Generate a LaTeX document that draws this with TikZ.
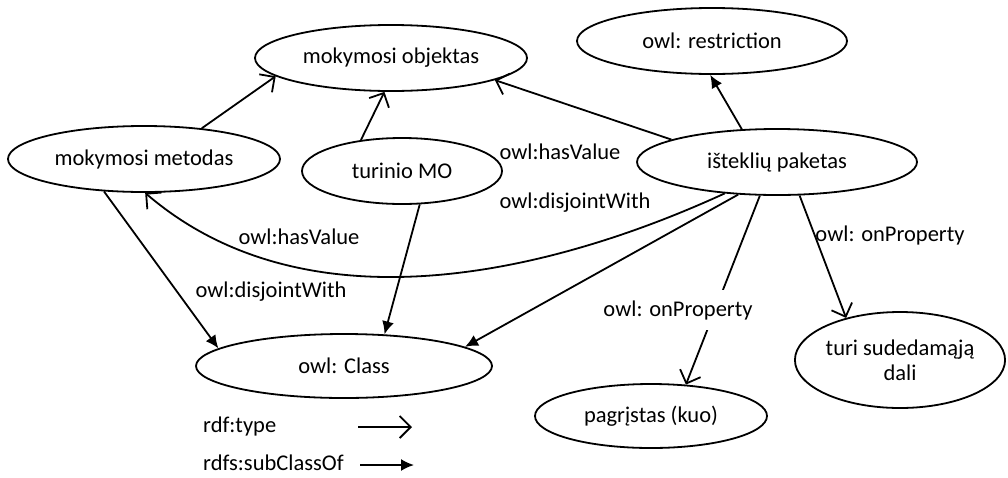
\documentclass[tikz,border=0pt]{standalone}
\usepackage{fontspec}
\setmainfont{Carlito}
\usepackage{tikz}
\usetikzlibrary{shapes.geometric, arrows.meta, positioning, calc}
\tikzset{
  concept/.style={ellipse, draw=black, line width=1.8pt, inner sep=0pt,
    align=center, font=\fontsize{22.5}{25}\selectfont},
  typearr/.style={-{Straight Barb[length=11pt,width=22pt,line width=1.8pt]}, line width=1.8pt},
  subarr/.style={-{Latex[length=13pt,width=12pt]}, line width=1.8pt},
  edgelbl/.style={font=\fontsize{22.5}{25}\selectfont, inner sep=1pt},
}
\begin{document}
\begin{tikzpicture}[x=1pt,y=-1pt]
\useasboundingbox (0,0) rectangle (1008,477);
% classes
\node[concept, minimum width=272pt, minimum height=66pt] (obj) at (391,58) {mokymosi objektas};
\node[concept, minimum width=272pt, minimum height=66pt] (met) at (144,159) {mokymosi metodas};
\node[concept, minimum width=200pt, minimum height=66pt] (tur) at (402,171) {turinio MO};
\node[concept, minimum width=270pt, minimum height=66pt] (res) at (712,41) {owl: restriction};
\node[concept, minimum width=280pt, minimum height=66pt] (pak) at (777,162) {išteklių paketas};
\node[concept, minimum width=296pt, minimum height=64pt] (cls) at (344,366) {owl: Class};
\node[concept, minimum width=232pt, minimum height=64pt] (pag) at (651,416) {pagrįstas (kuo)};
\node[concept, minimum width=206pt, minimum height=96pt] (sud) at (900,360) {turi sudedamąją\\dali};
% rdf:type
\draw[typearr] (met.28) -- (obj.189);
\draw[typearr] (tur.143) -- (obj.259);
\draw[typearr] (pak.168) -- (obj.-12);
\draw[typearr] (pak.211) .. controls (640,232) and (340,360) .. (met.272);
\draw[typearr] (pak.243) -- (pag.42);
\draw[typearr] (pak.-56) -- (sud.142);
% rdfs:subClassOf
\draw[subarr] (met.219) -- (cls.172);
\draw[subarr] (tur.-62) -- (cls.38);
\draw[subarr] (pak.220) -- (cls.9);
\draw[subarr] (pak.137) -- (res.267);
% edge labels
\node[edgelbl] (hv1) at (560,152) {owl:hasValue};
\node[edgelbl] (dw1) at (575,203) {owl:disjointWith};
\node[edgelbl] (hv2) at (299,237) {owl:hasValue};
\node[edgelbl] (dw2) at (271,292) {owl:disjointWith};
\node[edgelbl, fill=white, inner ysep=10pt] (op1) at (678,310) {owl: onProperty};
\node[edgelbl] (op2) at (890,235) {owl: onProperty};
% legend
\node[edgelbl, anchor=west] (lgtype) at (202,426) {rdf:type};
\node[edgelbl, anchor=west] (lgsub) at (202,463) {rdfs:subClassOf};
\coordinate (ta) at (358,427);
\coordinate (tb) at (412,427);
\coordinate (sa) at (360,465);
\coordinate (sb) at (414,465);
\draw[typearr] (ta) -- (tb);
\draw[subarr] (sa) -- (sb);
\end{tikzpicture}
\end{document}
